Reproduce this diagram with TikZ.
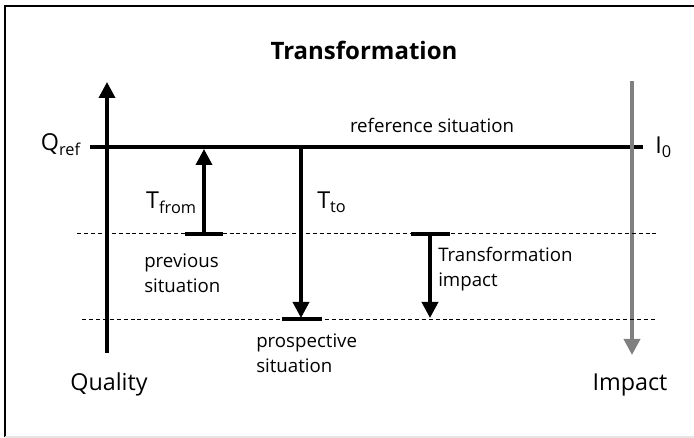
\documentclass[tikz,border=0pt]{standalone}
\usepackage{fontspec}
\setmainfont{Open Sans}
\usetikzlibrary{arrows.meta}
\definecolor{impactgray}{RGB}{128,128,128}

\begin{document}
\begin{tikzpicture}[x=0.75pt, y=-0.75pt,
    thickline/.style={line width=2.7pt},
    arrowline/.style={line width=2.7pt, -{Triangle[width=12pt,length=12pt]}},
    levelline/.style={line width=0.75pt, dash pattern=on 3pt off 2.2pt},
    bigtext/.style={inner sep=0pt, font=\fontsize{17.5}{21}\selectfont},
    smalltext/.style={inner sep=0pt, align=left, font=\fontsize{14}{18.75}\selectfont}]
			%%%%% FRAME %%%%%
			\useasboundingbox (0,0) rectangle (694,438);
			\draw[line width=0.8pt] (5,437) -- (5,6) -- (694,6);
			\draw[gray!20, line width=0.8pt] (5,437) -- (694,437);
			
			\node[font=\bfseries\fontsize{18}{22}\selectfont, anchor=base] (title) at (364,60) {Transformation};
			
			%%%%% AXES %%%%%
			\coordinate (qbot) at (107,353);
			\coordinate (qtop) at (107,82);
			\coordinate (itop) at (632,81);
			\coordinate (ibot) at (632,355);
			\coordinate (refL) at (90,147);
			\coordinate (refR) at (643,147);
			
			\draw[arrowline] (qbot) -- (qtop);
			\draw[thickline] (refL) -- (refR);
			\draw[arrowline, color=impactgray] (itop) -- (ibot);
			
			\node[bigtext, anchor=base east] (qref) at (81,151) {Q\textsubscript{ref}};
			\node[bigtext, anchor=base west] (izero) at (655,154) {I\textsubscript{0}};
			\node[smalltext, anchor=base] (refsit) at (432,133) {reference situation};
			\node[bigtext, anchor=base] (quality) at (109,391) {Quality};
			\node[bigtext, anchor=base] (impact) at (630,391) {Impact};
			
			%%%%% LEVELS %%%%%
			\coordinate (prevL) at (77,234);
			\coordinate (prevR) at (658,234);
			\coordinate (prospL) at (82,320);
			\coordinate (prospR) at (655,320);
			\draw[levelline] (prevL) -- (prevR);
			\draw[levelline] (prospL) -- (prospR);
			
			\draw[thickline] (185,234) -- (223,234);
			\draw[thickline] (282,319) -- (322,319);
			\draw[thickline] (411,234) -- (450,234);
			
			%%%%% TRANSFORMATIONS %%%%%
			\coordinate (fromA) at (204,234);
			\coordinate (fromB) at (204,149);
			\coordinate (toA) at (301,149);
			\coordinate (toB) at (301,318);
			\coordinate (impA) at (430,234);
			\coordinate (impB) at (430,318);
			
			\draw[arrowline] (fromA) -- (fromB);
			\draw[arrowline] (toA) -- (toB);
			\draw[arrowline] (impA) -- (impB);
			
			\node[bigtext, anchor=base east] (tfrom) at (197,209) {T\textsubscript{from}};
			\node[bigtext, anchor=base west] (tto) at (317,209) {T\textsubscript{to}};
			\node[smalltext, anchor=base west] (prevsit) at (144,293) {previous\\situation};
			\node[smalltext, anchor=base west] (prospsit) at (256,373) {prospective\\situation};
			\node[smalltext, anchor=base west] (tfimpact) at (438,287) {Transformation\\impact};
			
		\end{tikzpicture}
\end{document}
